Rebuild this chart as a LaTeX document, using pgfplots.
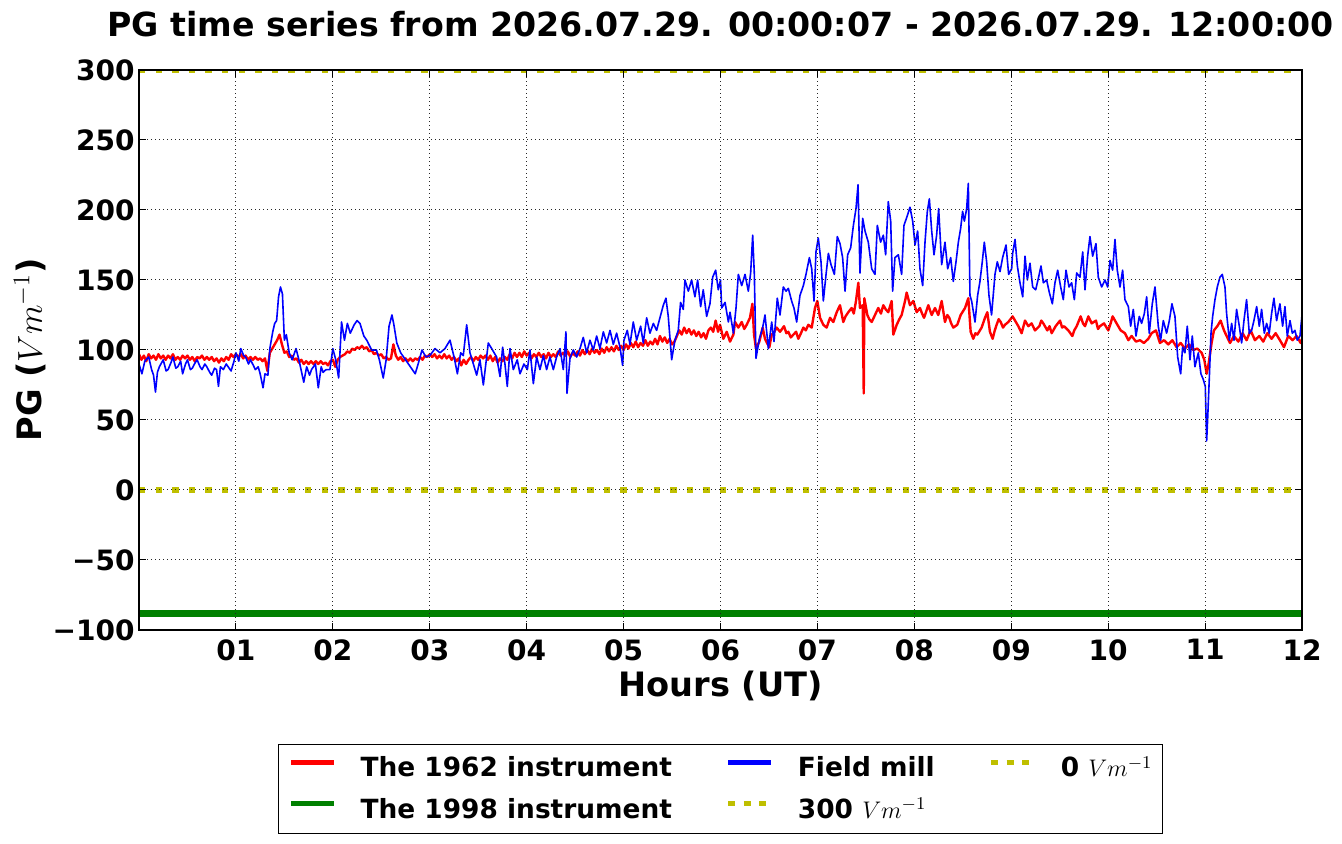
\documentclass[border=0pt]{standalone}
\usepackage{fontspec}
\setmainfont{DejaVu Sans}
\usepackage{pgfplots}
\pgfplotsset{compat=1.18}
\definecolor{mplyellow}{rgb}{0.75,0.75,0}
\definecolor{mplgreen}{rgb}{0,0.5,0}
\begin{document}
\begin{tikzpicture}
\useasboundingbox (-69.5pt,-107pt) rectangle (601.5pt,315pt);
\begin{axis}[
  at={(0pt,0pt)}, anchor=south west,
  scale only axis, width=581.5pt, height=280pt,
  xmin=0, xmax=12, ymin=-100, ymax=300,
  xtick={1,2,3,4,5,6,7,8,9,10,11,12},
  xticklabels={01,02,03,04,05,06,07,08,09,10,11,12},
  ytick={-100,-50,0,50,100,150,200,250,300},
  yticklabels={−100,−50,0,50,100,150,200,250,300},
  tick align=inside, major tick length=3.5pt,
  tick style={black, line width=0.5pt},
  minor tick num=0,
  grid=major,
  major grid style={black!85, line width=0.5pt, dash pattern=on 0.5pt off 1.5pt},
  axis line style={black, line width=0.7pt},
  axis on top,
  tick label style={font=\fontsize{14}{16}\selectfont\bfseries},
  xticklabel style={inner sep=0pt, yshift=-4.5pt},
  yticklabel style={inner sep=0pt, xshift=-2pt},
  every axis title shift=0pt,
  title={PG time series from 2026.07.29. 00:00:07 - 2026.07.29. 12:00:00},
  title style={at={(0.5,1.059)}, anchor=base, font=\fontsize{16.6}{19}\selectfont\bfseries, inner sep=0pt},
  xlabel={Hours (UT)},
  ylabel={PG ($Vm^{-1}$)},
  label style={font=\fontsize{16.8}{19}\selectfont\bfseries},
  xlabel style={at={(axis description cs:0.5,-0.118)}, anchor=base, inner sep=0pt},
  ylabel style={at={(axis description cs:-0.0937,0.5)}, anchor=center, inner sep=0pt},
  legend columns=3,
  legend cell align=left,
  legend image code/.code={\draw[#1] (0pt,3pt) -- (21.5pt,3pt);},
  legend style={at={(0.5,-0.2036)}, anchor=north, draw=black, line width=0.5pt,
    inner xsep=5pt, inner ysep=6pt,
    font=\fontsize{13.2}{15}\selectfont\bfseries,
    nodes={inner sep=0pt},
    row sep=9pt,
    /tikz/every odd column/.append style={column sep=12pt},
    /tikz/every even column/.append style={column sep=27pt}},
]
% The 1962 instrument
\addplot[red, line width=1.2pt, line join=round, forget plot] coordinates {
(0,97)(0.025,93)(0.05,96)(0.075,92)(0.1,97)(0.125,94)(0.15,96)(0.175,93)(0.2,97)(0.225,94)(0.25,96)(0.275,93)(0.3,96)(0.325,94)(0.35,97)(0.375,93)(0.4,95)(0.425,93)(0.45,96)(0.475,94)(0.5,96)(0.525,93)(0.55,95)(0.575,92)(0.6,95)(0.625,94)(0.65,96)(0.675,93)(0.7,95)(0.725,93)(0.75,95)(0.775,92)(0.8,94)(0.825,91)(0.85,94)(0.875,92)(0.9,95)(0.925,93)(0.95,97)(0.975,95)(1,97)
(1.025,95)(1.05,97)(1.075,94)(1.1,96)(1.125,93)(1.15,95)(1.175,93)(1.2,95)(1.225,93)(1.25,94)(1.275,92)(1.3,94)(1.325,85)(1.35,98)(1.375,101)(1.4,104)(1.425,107)(1.45,111)(1.475,104)(1.5,98)(1.525,99)(1.55,95)(1.575,96)(1.6,93)(1.625,94)(1.65,91)(1.675,93)(1.7,90)(1.725,92)(1.75,90)(1.775,92)(1.8,90)(1.825,92)(1.85,90)(1.875,92)(1.9,90)(1.925,91)(1.95,89)(1.975,92)(2,93)
(2.025,88)(2.05,93)(2.075,95)(2.1,96)(2.125,97)(2.15,99)(2.175,98)(2.2,101)(2.225,100)(2.25,102)(2.275,101)(2.3,103)(2.325,101)(2.35,102)(2.375,99)(2.4,100)(2.425,97)(2.45,98)(2.475,96)(2.5,97)(2.525,94)(2.55,95)(2.575,93)(2.6,94)(2.625,104)(2.65,96)(2.675,93)(2.7,95)(2.725,92)(2.75,94)(2.775,92)(2.8,94)(2.825,92)(2.85,94)(2.875,93)(2.9,95)(2.925,93)(2.95,96)(2.975,95)(3,97)
(3.025,95)(3.05,97)(3.075,94)(3.1,96)(3.125,94)(3.15,97)(3.175,94)(3.2,96)(3.225,93)(3.25,95)(3.275,92)(3.3,94)(3.325,89)(3.35,93)(3.375,90)(3.4,93)(3.425,95)(3.45,92)(3.475,95)(3.5,93)(3.525,96)(3.55,94)(3.575,96)(3.6,93)(3.625,96)(3.65,92)(3.675,95)(3.7,91)(3.725,94)(3.75,92)(3.775,95)(3.8,93)(3.825,97)(3.85,94)(3.875,98)(3.9,95)(3.925,98)(3.95,95)(3.975,99)(4,96)
(4.025,98)(4.05,94)(4.075,97)(4.1,95)(4.125,98)(4.15,95)(4.175,97)(4.2,94)(4.225,98)(4.25,95)(4.275,97)(4.3,95)(4.325,99)(4.35,96)(4.375,98)(4.4,96)(4.425,99)(4.45,95)(4.475,98)(4.5,96)(4.525,99)(4.55,96)(4.575,100)(4.6,97)(4.625,100)(4.65,97)(4.675,101)(4.7,98)(4.725,100)(4.75,97)(4.775,101)(4.8,98)(4.825,102)(4.85,99)(4.875,102)(4.9,99)(4.925,103)(4.95,100)(4.975,103)(5,100)
(5.025,104)(5.05,101)(5.075,105)(5.1,102)(5.125,106)(5.15,102)(5.175,105)(5.2,103)(5.225,107)(5.25,103)(5.275,106)(5.3,104)(5.325,108)(5.35,104)(5.375,110)(5.4,106)(5.425,109)(5.45,105)(5.475,108)(5.5,104)(5.525,106)(5.55,110)(5.575,114)(5.6,111)(5.625,116)(5.65,112)(5.675,115)(5.7,111)(5.725,114)(5.75,110)(5.775,113)(5.8,109)(5.825,112)(5.85,108)(5.875,114)(5.9,116)(5.925,113)(5.95,121)(5.975,113)
(5.995,118)(6.029,108)(6.064,113)(6.098,106)(6.133,111)(6.15,120)(6.184,116)(6.219,120)(6.245,115)(6.27,118)(6.304,123)(6.329,133)(6.346,111)(6.366,101)(6.401,106)(6.435,116)(6.459,108)(6.48,105)(6.504,102)(6.528,111)(6.555,113)(6.58,116)(6.614,113)(6.635,115)(6.655,117)(6.68,112)(6.7,113)(6.725,109)(6.752,111)(6.78,113)(6.803,108)(6.83,112)(6.855,116)(6.88,114)(6.906,118)(6.941,116)(6.975,130)(6.999,135)
(7.027,123)(7.061,118)(7.095,116)(7.13,123)(7.164,120)(7.199,127)(7.233,132)(7.267,120)(7.29,124)(7.319,127)(7.353,130)(7.375,126)(7.398,135)(7.422,148)(7.439,130)(7.467,132)(7.478,69)(7.484,137)(7.515,125)(7.535,122)(7.56,120)(7.594,125)(7.628,130)(7.655,126)(7.68,132)(7.705,129)(7.731,127)(7.766,135)(7.783,111)(7.818,118)(7.845,122)(7.869,125)(7.904,135)(7.921,141)(7.955,132)(7.99,135)
(8.024,127)(8.058,130)(8.08,126)(8.1,123)(8.125,128)(8.144,132)(8.179,125)(8.213,130)(8.247,125)(8.282,135)(8.316,120)(8.34,125)(8.361,123)(8.38,119)(8.402,116)(8.443,118)(8.478,125)(8.523,130)(8.557,137)(8.581,113)(8.608,108)(8.63,112)(8.65,111)(8.694,116)(8.729,123)(8.753,127)(8.78,113)(8.808,108)(8.83,114)(8.849,118)(8.87,122)(8.891,120)(8.915,116)(8.935,118)(8.97,120)
(9.014,124)(9.039,121)(9.073,117)(9.107,112)(9.142,121)(9.176,117)(9.21,119)(9.245,114)(9.29,117)(9.31,121)(9.331,119)(9.372,114)(9.395,117)(9.417,112)(9.458,117)(9.503,121)(9.525,116)(9.544,117)(9.589,114)(9.63,110)(9.65,114)(9.675,117)(9.716,124)(9.74,119)(9.761,117)(9.795,124)(9.83,119)(9.874,121)(9.895,115)(9.915,117)(9.957,119)
(10.001,114)(10.025,119)(10.046,124)(10.087,119)(10.129,114)(10.173,112)(10.208,107)(10.242,110)(10.287,106)(10.328,107)(10.369,105)(10.414,108)(10.448,112)(10.493,114)(10.534,105)(10.576,107)(10.62,104)(10.662,107)(10.706,102)(10.748,105)(10.792,101)(10.834,104)(10.878,100)(10.92,101)(10.964,98)(10.992,93)
(11.016,83)(11.036,90)(11.067,105)(11.091,114)(11.126,117)(11.16,121)(11.195,114)(11.222,110)(11.257,105)(11.298,110)(11.343,106)(11.387,112)(11.428,107)(11.47,114)(11.514,107)(11.559,110)(11.6,106)(11.642,112)(11.686,108)(11.728,112)(11.772,107)(11.814,102)(11.858,110)(11.903,107)(11.944,110)(11.986,105)(12,108)
};
% The 1998 instrument
\addplot[mplgreen, line width=3.5pt, forget plot] coordinates {(0,-88) (12,-88)};
% Field mill
\addplot[blue, line width=0.8pt, line join=round, forget plot] coordinates {
(0.00,90)(0.03,83)(0.06,92)(0.10,95)(0.13,86)(0.15,82)(0.17,70)(0.19,84)(0.21,88)(0.25,93)(0.28,85)(0.30,86)(0.33,91)(0.35,95)(0.38,87)(0.40,88)(0.43,92)(0.45,83)(0.48,90)(0.50,93)(0.53,86)(0.55,87)(0.58,91)(0.60,93)(0.63,88)(0.65,86)(0.68,90)(0.70,88)(0.73,84)(0.75,82)(0.78,87)(0.80,86)(0.82,74)(0.84,88)(0.87,86)(0.90,90)(0.93,87)(0.95,85)(0.98,92)
(1.00,98)(1.03,92)(1.05,101)(1.08,96)(1.10,95)(1.13,90)(1.15,93)(1.18,89)(1.20,86)(1.23,88)(1.25,83)(1.28,73)(1.30,83)(1.33,82)(1.35,101)(1.38,113)(1.40,119)(1.42,121)(1.44,138)(1.46,145)(1.48,140)(1.50,107)(1.52,111)(1.55,98)(1.58,93)(1.62,101)(1.65,93)(1.70,77)(1.73,88)(1.76,82)(1.78,86)(1.82,90)(1.85,73)(1.88,88)(1.90,84)(1.93,86)(1.97,86)
(2.00,101)(2.03,93)(2.06,80)(2.09,120)(2.12,107)(2.15,119)(2.18,112)(2.22,118)(2.25,121)(2.28,119)(2.32,110)(2.35,107)(2.40,100)(2.45,100)(2.48,93)(2.52,80)(2.55,93)(2.58,117)(2.61,125)(2.63,118)(2.66,105)(2.70,98)(2.75,93)(2.80,88)(2.85,83)(2.88,90)(2.92,100)(2.96,95)
(3.00,96)(3.054,101)(3.106,98)(3.157,101)(3.209,107)(3.254,94)(3.285,83)(3.319,98)(3.346,96)(3.381,118)(3.415,98)(3.45,90)(3.484,82)(3.518,93)(3.553,75)(3.604,105)(3.639,101)(3.69,95)(3.725,81)(3.752,102)(3.776,90)(3.8,74)(3.828,101)(3.862,86)(3.903,93)(3.931,83)(3.972,90)
(4.007,86)(4.034,100)(4.069,76)(4.103,95)(4.137,86)(4.172,96)(4.206,86)(4.24,95)(4.275,86)(4.309,95)(4.344,101)(4.378,86)(4.405,113)(4.416,69)(4.447,94)(4.481,100)(4.516,95)(4.55,101)(4.584,109)(4.619,98)(4.653,107)(4.688,100)(4.722,110)(4.756,101)(4.791,113)(4.825,105)(4.86,114)(4.894,104)(4.928,112)(4.963,102)(4.99,89)
(5.004,107)(5.038,114)(5.066,104)(5.1,120)(5.135,107)(5.176,117)(5.203,105)(5.238,123)(5.272,112)(5.307,119)(5.341,114)(5.375,123)(5.41,132)(5.437,137)(5.461,124)(5.496,93)(5.53,107)(5.564,114)(5.588,134)(5.616,129)(5.633,150)(5.668,142)(5.702,150)(5.736,138)(5.764,150)(5.795,131)(5.822,143)(5.857,124)(5.891,133)(5.919,152)(5.95,157)(5.977,143)
(6.00,150)(6.012,130)(6.047,134)(6.081,120)(6.098,127)(6.133,112)(6.16,130)(6.184,154)(6.219,146)(6.253,154)(6.287,142)(6.311,155)(6.332,182)(6.349,154)(6.366,94)(6.401,108)(6.435,116)(6.459,125)(6.494,101)(6.528,120)(6.552,106)(6.586,137)(6.614,125)(6.648,145)(6.676,142)(6.7,144)(6.734,135)(6.758,130)(6.786,120)(6.82,139)(6.855,146)(6.882,154)(6.917,166)(6.941,158)(6.965,135)(6.985,170)
(7.009,180)(7.037,163)(7.061,135)(7.089,154)(7.113,169)(7.14,161)(7.175,154)(7.205,181)(7.233,176)(7.26,166)(7.285,142)(7.312,168)(7.343,173)(7.371,189)(7.398,201)(7.419,218)(7.439,155)(7.467,194)(7.491,185)(7.525,177)(7.56,158)(7.594,154)(7.618,189)(7.652,177)(7.68,182)(7.704,168)(7.731,206)(7.756,192)(7.776,142)(7.8,166)(7.835,168)(7.869,154)(7.893,189)(7.928,196)(7.955,202)(7.983,192)
(8.007,175)(8.034,185)(8.058,158)(8.086,146)(8.11,177)(8.134,199)(8.155,208)(8.179,185)(8.203,168)(8.23,182)(8.251,201)(8.282,161)(8.316,177)(8.344,158)(8.375,166)(8.402,149)(8.43,163)(8.454,177)(8.478,187)(8.498,199)(8.516,192)(8.54,201)(8.557,219)(8.574,139)(8.591,135)(8.626,120)(8.653,139)(8.677,149)(8.701,163)(8.722,177)(8.746,163)(8.77,139)(8.797,125)(8.832,154)(8.856,163)(8.884,156)(8.911,166)(8.946,175)(8.973,154)
(9.004,158)(9.014,169)(9.039,179)(9.063,160)(9.09,148)(9.118,138)(9.142,167)(9.166,150)(9.193,162)(9.221,145)(9.252,143)(9.279,151)(9.307,160)(9.331,148)(9.365,150)(9.393,141)(9.424,133)(9.451,148)(9.479,157)(9.51,145)(9.537,136)(9.565,157)(9.596,145)(9.623,148)(9.651,136)(9.675,155)(9.709,152)(9.737,170)(9.761,143)(9.788,167)(9.812,181)(9.84,167)(9.874,176)(9.898,152)(9.933,145)(9.967,150)(9.995,145)
(10.019,164)(10.046,157)(10.07,179)(10.094,157)(10.122,145)(10.149,157)(10.173,136)(10.208,131)(10.232,117)(10.259,129)(10.287,110)(10.321,124)(10.345,119)(10.373,126)(10.397,138)(10.424,112)(10.455,133)(10.483,145)(10.517,117)(10.541,107)(10.569,121)(10.603,112)(10.631,121)(10.658,133)(10.689,124)(10.717,95)(10.748,83)(10.768,102)(10.792,98)(10.816,117)(10.844,93)(10.868,110)(10.895,88)(10.93,98)(10.957,83)(10.981,79)
(11.002,74)(11.016,35)(11.026,50)(11.043,79)(11.061,112)(11.078,124)(11.102,136)(11.126,145)(11.153,152)(11.177,154)(11.205,145)(11.222,126)(11.25,107)(11.274,119)(11.298,107)(11.325,129)(11.353,117)(11.377,105)(11.401,121)(11.428,136)(11.456,112)(11.48,114)(11.504,121)(11.532,131)(11.559,117)(11.583,129)(11.611,112)(11.635,119)(11.662,112)(11.686,126)(11.71,137)(11.738,121)(11.772,133)(11.8,117)(11.824,131)(11.848,110)(11.876,121)(11.9,112)(11.927,114)(11.951,107)(11.979,110)(12,125)
};
% 300 V/m and 0 V/m
\addplot[mplyellow, line width=2.8pt, dash pattern=on 3.2pt off 5.1pt, forget plot] coordinates {(0,300) (12,300)};
\addplot[mplyellow, line width=2.8pt, dash pattern=on 3.2pt off 5.1pt, forget plot] coordinates {(0,0) (12,0)};
% legend (matplotlib fills columns first)
\addlegendimage{red, line width=2.5pt}
\addlegendentry{The 1962 instrument}
\addlegendimage{blue, line width=2.5pt}
\addlegendentry{Field mill}
\addlegendimage{mplyellow, line width=2.5pt, dash pattern=on 3.5pt off 4.2pt}
\addlegendentry{0 $Vm^{-1}$}
\addlegendimage{mplgreen, line width=2.5pt}
\addlegendentry{The 1998 instrument}
\addlegendimage{mplyellow, line width=2.5pt, dash pattern=on 3.5pt off 4.2pt}
\addlegendentry{300 $Vm^{-1}$}
\end{axis}
\end{tikzpicture}
\end{document}
